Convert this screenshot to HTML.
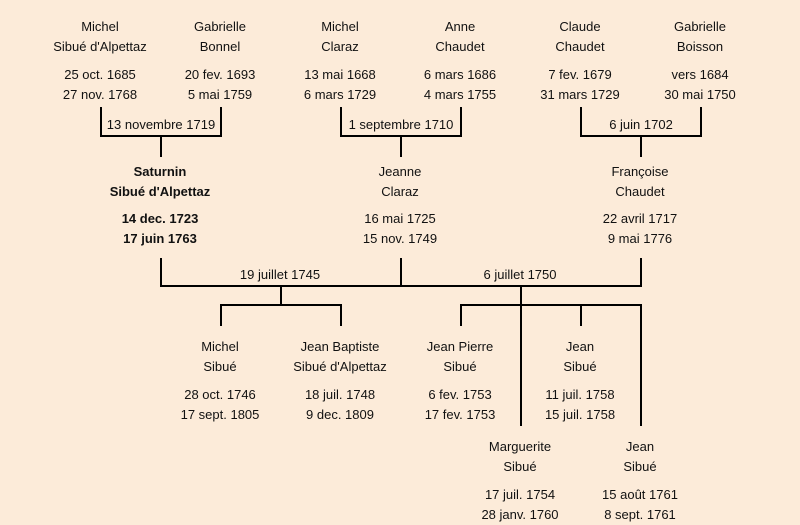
<!DOCTYPE html>
<html><head><meta charset="utf-8"><style>
body{margin:0;width:800px;height:521px;background:#fcebd9;position:relative;overflow:hidden;font-family:"Liberation Sans","DejaVu Sans",sans-serif;font-size:13px;color:#111}
.t{position:absolute;width:160px;margin-left:-80px;text-align:center;line-height:20px;white-space:nowrap}
.b{font-weight:bold}
svg{position:absolute;left:0;top:0}
</style></head><body>
<svg width="800" height="521"><g stroke="#000" stroke-width="2" fill="none">
<path d="M101 107V136H221V107M161 136V157"/>
<path d="M341 107V136H461V107M401 136V157"/>
<path d="M581 107V136H701V107M641 136V157"/>
<path d="M161 258V286H641V258M401 258V286"/>
<path d="M281 286V305M221 326V305H341V326"/>
<path d="M521 286V426M461 326V305H641V426M581 305V326"/>
</g></svg>
<div class="t" style="left:100px;top:17px">Michel<br>Sibué d'Alpettaz</div>
<div class="t" style="left:100px;top:65px">25 oct. 1685<br>27 nov. 1768</div>
<div class="t" style="left:220px;top:17px">Gabrielle<br>Bonnel</div>
<div class="t" style="left:220px;top:65px">20 fev. 1693<br>5 mai 1759</div>
<div class="t" style="left:340px;top:17px">Michel<br>Claraz</div>
<div class="t" style="left:340px;top:65px">13 mai 1668<br>6 mars 1729</div>
<div class="t" style="left:460px;top:17px">Anne<br>Chaudet</div>
<div class="t" style="left:460px;top:65px">6 mars 1686<br>4 mars 1755</div>
<div class="t" style="left:580px;top:17px">Claude<br>Chaudet</div>
<div class="t" style="left:580px;top:65px">7 fev. 1679<br>31 mars 1729</div>
<div class="t" style="left:700px;top:17px">Gabrielle<br>Boisson</div>
<div class="t" style="left:700px;top:65px">vers 1684<br>30 mai 1750</div>
<div class="t" style="left:161px;top:115px">13 novembre 1719</div>
<div class="t" style="left:401px;top:115px">1 septembre 1710</div>
<div class="t" style="left:641px;top:115px">6 juin 1702</div>
<div class="t b" style="left:160px;top:162px">Saturnin<br>Sibué d'Alpettaz</div>
<div class="t b" style="left:160px;top:209px">14 dec. 1723<br>17 juin 1763</div>
<div class="t" style="left:400px;top:162px">Jeanne<br>Claraz</div>
<div class="t" style="left:400px;top:209px">16 mai 1725<br>15 nov. 1749</div>
<div class="t" style="left:640px;top:162px">Françoise<br>Chaudet</div>
<div class="t" style="left:640px;top:209px">22 avril 1717<br>9 mai 1776</div>
<div class="t" style="left:280px;top:265px">19 juillet 1745</div>
<div class="t" style="left:520px;top:265px">6 juillet 1750</div>
<div class="t" style="left:220px;top:337px">Michel<br>Sibué</div>
<div class="t" style="left:220px;top:385px">28 oct. 1746<br>17 sept. 1805</div>
<div class="t" style="left:340px;top:337px">Jean Baptiste<br>Sibué d'Alpettaz</div>
<div class="t" style="left:340px;top:385px">18 juil. 1748<br>9 dec. 1809</div>
<div class="t" style="left:460px;top:337px">Jean Pierre<br>Sibué</div>
<div class="t" style="left:460px;top:385px">6 fev. 1753<br>17 fev. 1753</div>
<div class="t" style="left:580px;top:337px">Jean<br>Sibué</div>
<div class="t" style="left:580px;top:385px">11 juil. 1758<br>15 juil. 1758</div>
<div class="t" style="left:520px;top:437px">Marguerite<br>Sibué</div>
<div class="t" style="left:520px;top:485px">17 juil. 1754<br>28 janv. 1760</div>
<div class="t" style="left:640px;top:437px">Jean<br>Sibué</div>
<div class="t" style="left:640px;top:485px">15 août 1761<br>8 sept. 1761</div>
</body></html>
